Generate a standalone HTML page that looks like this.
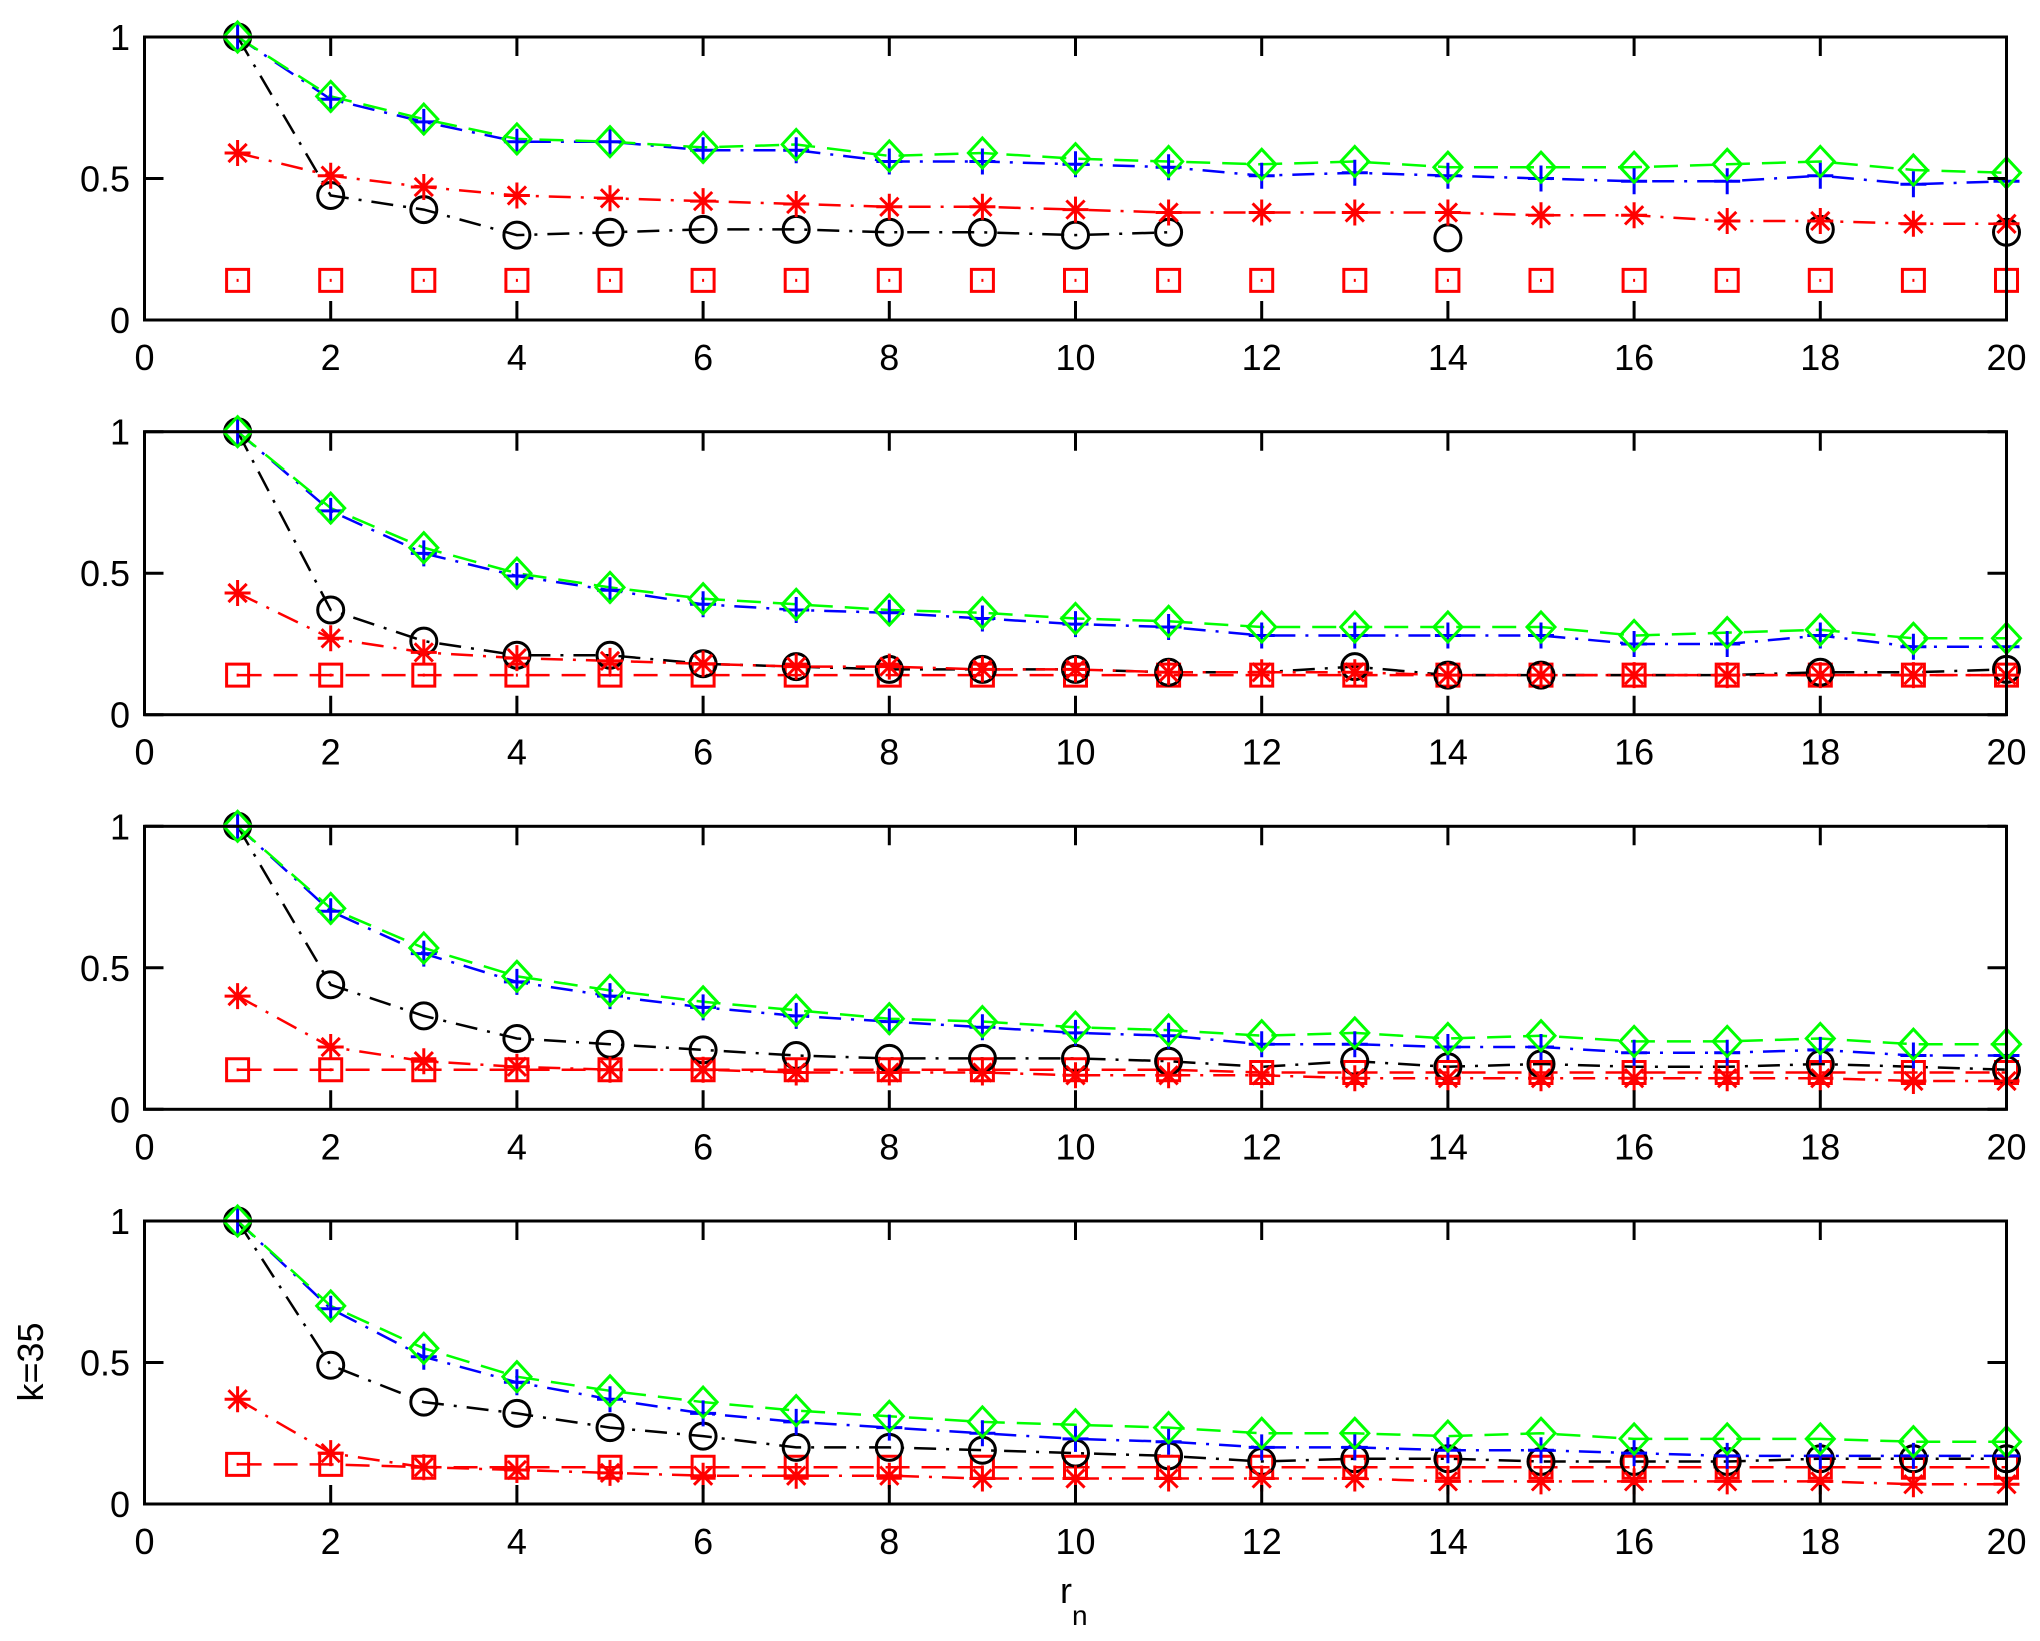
<!DOCTYPE html>
<html><head><meta charset="utf-8"><style>
html,body{margin:0;padding:0;background:#fff;}
svg{display:block;}
text{font-family:"Liberation Sans",sans-serif;font-size:36px;fill:#000;}
</style></head><body>
<svg id="s" width="2040" height="1641" viewBox="0 0 2040 1641" xmlns="http://www.w3.org/2000/svg">
<g id="p0" transform="translate(0,37)">
<text x="130" y="13" text-anchor="end">1</text><text x="130" y="154.5" text-anchor="end">0.5</text><text x="130" y="296" text-anchor="end">0</text>
<g text-anchor="middle"><text x="144.5" y="333">0</text><text x="330.7" y="333">2</text><text x="516.9" y="333">4</text><text x="703.1" y="333">6</text><text x="889.3" y="333">8</text><text x="1075.5" y="333">10</text><text x="1261.7" y="333">12</text><text x="1447.9" y="333">14</text><text x="1634.1" y="333">16</text><text x="1820.3" y="333">18</text><text x="2006.5" y="333">20</text></g>
</g>
<g id="p1" transform="translate(0,431.7)">
<text x="130" y="13" text-anchor="end">1</text><text x="130" y="154.5" text-anchor="end">0.5</text><text x="130" y="296" text-anchor="end">0</text>
<g text-anchor="middle"><text x="144.5" y="333">0</text><text x="330.7" y="333">2</text><text x="516.9" y="333">4</text><text x="703.1" y="333">6</text><text x="889.3" y="333">8</text><text x="1075.5" y="333">10</text><text x="1261.7" y="333">12</text><text x="1447.9" y="333">14</text><text x="1634.1" y="333">16</text><text x="1820.3" y="333">18</text><text x="2006.5" y="333">20</text></g>
</g>
<g id="p2" transform="translate(0,826.3)">
<text x="130" y="13" text-anchor="end">1</text><text x="130" y="154.5" text-anchor="end">0.5</text><text x="130" y="296" text-anchor="end">0</text>
<g text-anchor="middle"><text x="144.5" y="333">0</text><text x="330.7" y="333">2</text><text x="516.9" y="333">4</text><text x="703.1" y="333">6</text><text x="889.3" y="333">8</text><text x="1075.5" y="333">10</text><text x="1261.7" y="333">12</text><text x="1447.9" y="333">14</text><text x="1634.1" y="333">16</text><text x="1820.3" y="333">18</text><text x="2006.5" y="333">20</text></g>
</g>
<g id="p3" transform="translate(0,1221)">
<text x="130" y="13" text-anchor="end">1</text><text x="130" y="154.5" text-anchor="end">0.5</text><text x="130" y="296" text-anchor="end">0</text>
<g text-anchor="middle"><text x="144.5" y="333">0</text><text x="330.7" y="333">2</text><text x="516.9" y="333">4</text><text x="703.1" y="333">6</text><text x="889.3" y="333">8</text><text x="1075.5" y="333">10</text><text x="1261.7" y="333">12</text><text x="1447.9" y="333">14</text><text x="1634.1" y="333">16</text><text x="1820.3" y="333">18</text><text x="2006.5" y="333">20</text></g>
</g>
<text x="0" y="0" text-anchor="middle" transform="translate(43,1362) rotate(-90)">k=35</text>
<text x="1060" y="1603">r</text><text x="1072" y="1625" style="font-size:28px">n</text>
</svg>
<script>
var NS="http://www.w3.org/2000/svg",L=144.5,U=93.1,H=283;
var tops=[37,431.7,826.3,1221];
var N=null;
var D=[
{b:[1,.78,.70,.63,.63,.60,.60,.56,.56,.55,.54,.51,.52,.51,.50,.49,.49,.51,.48,.49],
 g:[1,.79,.71,.64,.63,.61,.62,.58,.59,.57,.56,.55,.56,.54,.54,.54,.55,.56,.53,.52],
 r:[.59,.51,.47,.44,.43,.42,.41,.40,.40,.39,.38,.38,.38,.38,.37,.37,.35,.35,.34,.34],
 k:[1,.44,.39,.30,.31,.32,.32,.31,.31,.30,.31,N,N,.29,N,N,N,.32,N,.31],
 s:[.14,.14,.14,.14,.14,.14,.14,.14,.14,.14,.14,.14,.14,.14,.14,.14,.14,.14,.14,.14],sl:false},
{b:[1,.72,.57,.49,.44,.39,.37,.36,.34,.32,.31,.28,.28,.28,.28,.25,.25,.28,.24,.24],
 g:[1,.73,.59,.50,.45,.41,.39,.37,.36,.34,.33,.31,.31,.31,.31,.28,.29,.30,.27,.27],
 r:[.43,.27,.22,.20,.19,.18,.17,.17,.16,.16,.15,.15,.15,.14,.14,.14,.14,.14,.14,.14],
 k:[1,.37,.26,.21,.21,.18,.17,.16,.16,.16,.15,.15,.17,.14,.14,.14,.14,.15,.15,.16],
 km:[1,1,1,1,1,1,1,1,1,1,1,0,1,1,1,0,0,1,0,1],
 s:[.14,.14,.14,.14,.14,.14,.14,.14,.14,.14,.14,.14,.14,.14,.14,.14,.14,.14,.14,.14],sl:true},
{b:[1,.70,.55,.45,.40,.36,.33,.31,.29,.27,.26,.23,.23,.22,.22,.20,.20,.21,.19,.19],
 g:[1,.71,.57,.47,.42,.38,.35,.32,.31,.29,.28,.26,.27,.25,.26,.24,.24,.25,.23,.23],
 k:[1,.44,.33,.25,.23,.21,.19,.18,.18,.18,.17,.15,.17,.15,.16,.15,.15,.16,.15,.14],
 km:[1,1,1,1,1,1,1,1,1,1,1,0,1,1,1,0,0,1,0,1],
 r:[.40,.22,.17,.15,.14,.14,.13,.13,.13,.12,.12,.12,.11,.11,.11,.11,.11,.11,.10,.10],
 s:[.14,.14,.14,.14,.14,.14,.14,.14,.14,.14,.14,.13,.13,.13,.13,.13,.13,.13,.13,.13],sl:true},
{b:[1,.69,.52,.43,.37,.32,.29,.27,.25,.23,.22,.20,.20,.19,.19,.18,.17,.17,.17,.17],
 g:[1,.70,.55,.45,.40,.36,.33,.31,.29,.28,.27,.25,.25,.24,.25,.23,.23,.23,.22,.22],
 k:[1,.49,.36,.32,.27,.24,.20,.20,.19,.18,.17,.15,.16,.16,.15,.15,.15,.16,.16,.16],
 r:[.37,.18,.13,.12,.11,.10,.10,.10,.09,.09,.09,.09,.09,.08,.08,.08,.08,.08,.07,.07],
 s:[.14,.14,.13,.13,.13,.13,.13,.13,.13,.13,.13,.13,.13,.13,.13,.13,.13,.13,.13,.13],sl:true}];
var svg=document.getElementById('s'),out='';
function P(d,c,w,da){out+='<path d="'+d+'" fill="none" stroke="'+c+'" stroke-width="'+w+'"'+(da?' stroke-dasharray="'+da+'"':'')+'/>';}
function line(arr,top,c,da){var d='',pen=false;for(var i=0;i<arr.length;i++){if(arr[i]===null){pen=false;continue;}var x=L+U*(i+1),y=top+H*(1-arr[i]);d+=(pen?'L':'M')+x.toFixed(1)+' '+y.toFixed(1);pen=true;}P(d,c,2.5,da);}
function mk(t,x,y,c){var r=13,d='';
 if(t=='+')d='M'+(x-r)+' '+y+'H'+(x+r)+'M'+x+' '+(y-r)+'V'+(y+r);
 if(t=='d')d='M'+x+' '+(y-15)+'L'+(x+14)+' '+y+'L'+x+' '+(y+15)+'L'+(x-14)+' '+y+'Z';
 if(t=='s')d='M'+(x-11)+' '+(y-11)+'h22v22h-22zM'+(x-1)+' '+y+'h2';
 if(t=='*'){var a=r*0.7;d='M'+(x-r)+' '+y+'H'+(x+r)+'M'+x+' '+(y-r)+'V'+(y+r)+'M'+(x-a)+' '+(y-a)+'L'+(x+a)+' '+(y+a)+'M'+(x-a)+' '+(y+a)+'L'+(x+a)+' '+(y-a);}
 if(t=='o'){out+='<circle cx="'+x+'" cy="'+y+'" r="13" fill="none" stroke="'+c+'" stroke-width="3"/>';return;}
 P(d,c,3);}
function marks(arr,top,t,c,m){for(var i=0;i<arr.length;i++){if(arr[i]===null)continue;if(m&&!m[i])continue;mk(t,(L+U*(i+1)).toFixed(1)*1,+(top+H*(1-arr[i])).toFixed(1),c);}}
var DD='22 10 3 10',DS='24 12';
for(var p=0;p<4;p++){var t=tops[p],s=D[p];
 if(s.sl)line(s.s,t,'#f00',DS);
 line(s.k,t,'#000',DD);line(s.r,t,'#f00',DD);line(s.b,t,'#00f',DD);line(s.g,t,'#0f0',DS);
 marks(s.s,t,'s','#f00');marks(s.k,t,'o','#000',s.km);marks(s.r,t,'*','#f00');marks(s.b,t,'+','#00f');marks(s.g,t,'d','#0f0');
 // axes
 out+='<rect x="'+L+'" y="'+t+'" width="'+(U*20)+'" height="'+H+'" fill="none" stroke="#000" stroke-width="3"/>';
 var tk='';for(var k=0;k<=10;k++){var x=L+U*2*k;tk+='M'+x+' '+(t+H)+'v-19M'+x+' '+t+'v19';}
 for(var j=0;j<3;j++){var y=t+H*j/2;tk+='M'+L+' '+y+'h19M'+(L+U*20)+' '+y+'h-19';}
 P(tk,'#000',3);
}
svg.insertAdjacentHTML('beforeend',out);
</script>
</body></html>
